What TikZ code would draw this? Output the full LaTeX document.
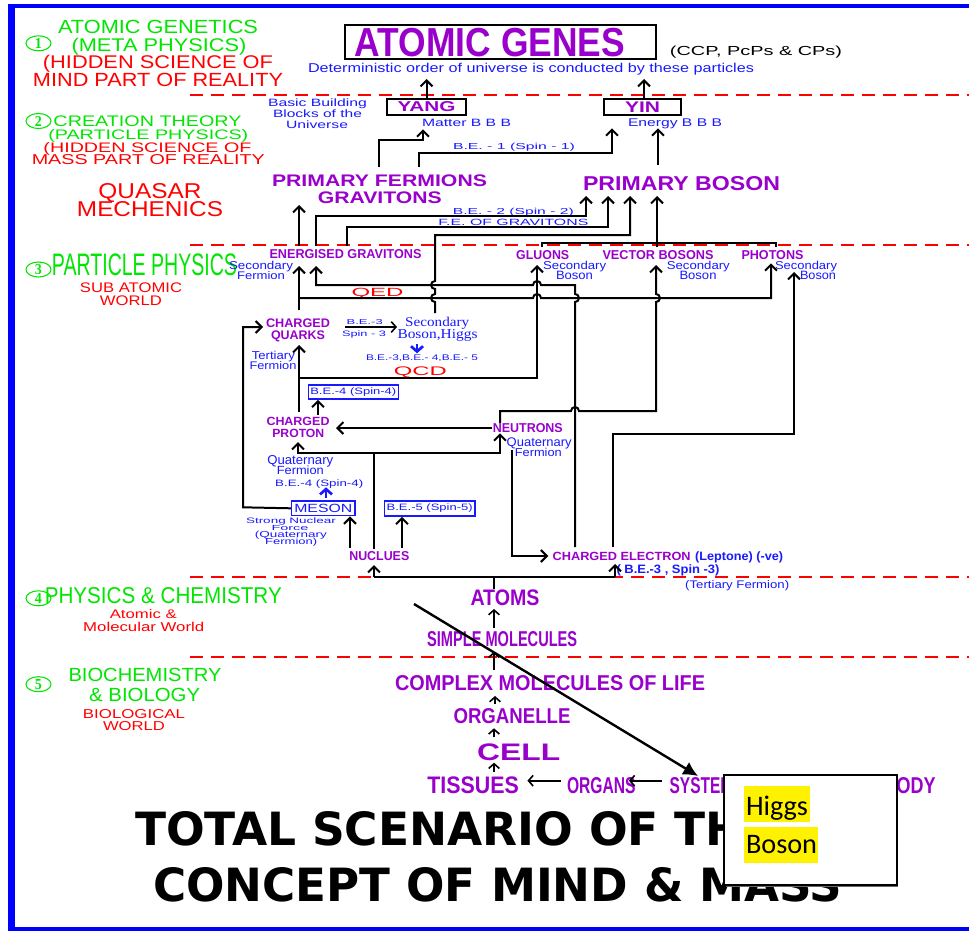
\documentclass[tikz,border=0pt]{standalone}
\usepackage{fontspec}
\usepackage{graphicx}
\setmainfont{Liberation Sans}
\newfontfamily\serfont{Liberation Serif}
\newfontfamily\calfont{Carlito}
\newfontfamily\dejafont{DejaVu Sans}
\usetikzlibrary{arrows.meta,shapes.geometric}
\newlength\pxu
\setlength\pxu{0.75pt}
\newcommand\WH[3]{\resizebox{#1\pxu}{#2\pxu}{#3}}
\definecolor{grn}{RGB}{0,230,0}
\definecolor{rd}{RGB}{255,0,0}
\definecolor{pur}{RGB}{153,0,204}
\definecolor{blu}{RGB}{25,25,255}
\definecolor{bord}{RGB}{0,0,255}
\tikzset{
  tx/.style={inner sep=0pt, outer sep=0pt, anchor=base},
  gtx/.style={tx, text=grn},
  rtx/.style={tx, text=rd},
  ptx/.style={tx, text=pur, font=\bfseries},
  btx/.style={tx, text=blu},
  bbtx/.style={tx, text=blu, font=\bfseries},
  ktx/.style={tx, text=black},
  circ/.style={ellipse, draw=grn, line width=0.8pt, text=grn, inner sep=0pt, minimum width=25\pxu, minimum height=15\pxu, font=\serfont\bfseries},
  boxn/.style={draw, inner sep=0pt, line width=1.5pt},
  con/.style={line width=1.5pt, draw=black},
  arr/.style={con, -{Straight Barb[length=4.5pt,width=9pt]}},
  sarr/.style={line width=1.2pt, draw=black, -{Straight Barb[length=3.5pt,width=8pt]}},
  barr/.style={line width=2pt, draw=blu, -{Straight Barb[length=4pt,width=9pt]}},
  redash/.style={draw=rd, line width=1.5pt, dash pattern=on 9.75pt off 6pt},
}
\begin{document}
\begin{tikzpicture}[x=0.75pt,y=-0.75pt]
\useasboundingbox (0,0) rectangle (969,931);
\fill[white] (0,0) rectangle (969,931);
% border
\draw[bord, line width=5.25pt] (11.5,4) -- (11.5,931);
\draw[bord, line width=3pt] (8,6) -- (969,6);
\draw[bord, line width=3pt] (8,928.5) -- (969,928.5);
% red dashed separators
\draw[redash] (190,95) -- (969,95);
\draw[redash] (190,245) -- (969,245);
\draw[redash] (190,577) -- (969,577);
\draw[redash] (190,657) -- (969,657);

% ---------- left column ----------
\node[circ] (c1) at (38.5,43.3) {\WH{7}{10}{1}};
\node[gtx] (l1a) at (158,33.3) {\WH{200}{13.3}{ATOMIC GENETICS}};
\node[gtx] (l1b) at (159,51.7) {\WH{175}{13.3}{(META PHYSICS)}};
\node[rtx] (l1c) at (158,68.3) {\WH{230}{13.3}{(HIDDEN SCIENCE OF}};
\node[rtx] (l1d) at (158,86) {\WH{250}{13.3}{MIND PART OF REALITY}};

\node[circ] (c2) at (38.5,121) {\WH{7}{10}{2}};
\node[gtx] (l2a) at (147.5,126.7) {\WH{188}{10.7}{CREATION THEORY}};
\node[gtx] (l2b) at (148.3,139.3) {\WH{200}{10}{(PARTICLE PHYSICS)}};
\node[rtx] (l2c) at (147.5,152.7) {\WH{208}{10}{(HIDDEN SCIENCE OF}};
\node[rtx] (l2d) at (148.3,164.3) {\WH{233}{10}{MASS PART OF REALITY}};
\node[rtx] (q1) at (150,198.3) {\WH{103}{15}{QUASAR}};
\node[rtx] (q2) at (150,216.7) {\WH{146}{15}{MECHENICS}};

\node[circ] (c3) at (38.5,269.5) {\WH{7}{10}{3}};
\node[gtx] (l3a) at (144.5,275) {\WH{185}{21.7}{PARTICLE PHYSICS}};
\node[rtx] (l3b) at (131,292.3) {\WH{102}{9.7}{SUB ATOMIC}};
\node[rtx] (l3c) at (131,305) {\WH{62}{9.7}{WORLD}};

\node[circ] (c4) at (38.5,598.3) {\WH{7}{10}{4}};
\node[gtx] (l4a) at (163.3,603.3) {\WH{237}{16}{PHYSICS \& CHEMISTRY}};
\node[rtx] (l4b) at (143.3,618.3) {\WH{67}{9}{Atomic \&}};
\node[rtx] (l4c) at (143.7,631) {\WH{121}{9.3}{Molecular World}};

\node[circ] (c5) at (38.5,684.2) {\WH{7}{10}{5}};
\node[gtx] (l5a) at (145,681.7) {\WH{153}{13.3}{BIOCHEMISTRY}};
\node[gtx] (l5b) at (144.7,701) {\WH{111}{13.3}{\& BIOLOGY}};
\node[rtx] (l5c) at (134,718.3) {\WH{102}{9}{BIOLOGICAL}};
\node[rtx] (l5d) at (134,730.7) {\WH{62}{9}{WORLD}};

% ---------- top ----------
\node[boxn, minimum width=311\pxu, minimum height=34\pxu] (AGb) at (500.5,42) {};
\node[ptx] (AG) at (490,56.7) {\WH{270}{28.3}{ATOMIC GENES}};
\node[ktx] (ccp) at (756,55.5) {\WH{172}{9.5}{(CCP, PcPs \& CPs)}};
\node[btx] (Det) at (531,72.7) {\WH{446}{9.3}{Deterministic order of universe is conducted by these particles}};
\node[btx] (bb1) at (317.5,106) {\WH{99}{7.7}{Basic Building}};
\node[btx] (bb2) at (317.5,117.3) {\WH{89}{7.7}{Blocks of the}};
\node[btx] (bb3) at (317,128.3) {\WH{62}{7.7}{Universe}};
\node[boxn, minimum width=79\pxu, minimum height=16\pxu, text=pur, font=\bfseries] (YANG) at (426.5,107) {\WH{58}{10}{YANG}};
\node[boxn, minimum width=77\pxu, minimum height=16\pxu, text=pur, font=\bfseries] (YIN) at (642.5,107) {\WH{35}{10.6}{YIN}};
\node[btx] (Mat) at (466.5,126.7) {\WH{89}{7.3}{Matter B B B}};
\node[btx] (En) at (675,126) {\WH{94}{7.7}{Energy B B B}};
\node[btx] (be1) at (514,149) {\WH{122}{6.3}{B.E. - 1 (Spin - 1)}};
\node[ptx] (PF1) at (379.5,186.7) {\WH{215}{11.7}{PRIMARY FERMIONS}};
\node[ptx] (PF2) at (379.8,203.3) {\WH{124}{11.7}{GRAVITONS}};
\node[ptx] (PB) at (681.5,190) {\WH{197}{14}{PRIMARY BOSON}};
\node[btx] (be2) at (513.3,214) {\WH{121}{6.3}{B.E. - 2 (Spin - 2)}};
\node[btx] (feg) at (513.3,225) {\WH{150}{6.3}{F.E. OF GRAVITONS}};

% ---------- row 3 ----------
\node[ptx] (EG) at (345.5,258.5) {\WH{152}{9}{ENERGISED GRAVITONS}};
\node[btx] (egs1) at (261,269.3) {\WH{64}{8.3}{Secondary}};
\node[btx] (egs2) at (261,279) {\WH{48}{8}{Fermion}};
\node[ptx] (GL) at (542.7,259) {\WH{53}{9}{GLUONS}};
\node[btx] (gls1) at (574.7,269) {\WH{63}{8.3}{Secondary}};
\node[btx] (gls2) at (574.5,279.3) {\WH{37}{8.3}{Boson}};
\node[ptx] (VB) at (658,259) {\WH{111}{9}{VECTOR BOSONS}};
\node[btx] (vbs1) at (698.3,269) {\WH{63}{8.3}{Secondary}};
\node[btx] (vbs2) at (698,279.3) {\WH{37}{8.3}{Boson}};
\node[ptx] (PH) at (772.5,259) {\WH{62}{9}{PHOTONS}};
\node[btx] (phs1) at (806,269) {\WH{62}{8.3}{Secondary}};
\node[btx] (phs2) at (818,279) {\WH{36}{8.3}{Boson}};
\node[rtx] (QED) at (377.5,296.7) {\WH{52}{8.3}{QED}};

% ---------- middle ----------
\node[ptx] (CQ1) at (298,327.7) {\WH{64}{8.7}{CHARGED}};
\node[ptx] (CQ2) at (298,339.3) {\WH{54}{8.7}{QUARKS}};
\node[btx] (b3a) at (364.7,324.3) {\WH{36}{5}{B.E.-3}};
\node[btx] (b3b) at (364,336.7) {\WH{44}{5.7}{Spin - 3}};
\node[tx, text=blu, font=\serfont] (SH1) at (437.2,326) {\WH{64}{9.3}{Secondary}};
\node[tx, text=blu, font=\serfont] (SH2) at (437.5,338.3) {\WH{80}{9}{Boson,Higgs}};
\node[btx] (b345) at (422,360.7) {\WH{112}{5.7}{B.E.-3,B.E.- 4,B.E.- 5}};
\node[rtx] (QCD) at (420.3,375.3) {\WH{53}{8.7}{QCD}};
\node[btx] (tf1) at (273.3,359.3) {\WH{43}{8.3}{Tertiary}};
\node[btx] (tf2) at (273,369) {\WH{47}{8}{Fermion}};
\node[draw=blu, line width=1.2pt, inner sep=0pt, minimum width=90\pxu, minimum height=14\pxu, text=blu] (BE4) at (353.3,392) {\WH{86}{6.7}{B.E.-4 (Spin-4)}};
\node[ptx] (CP1) at (298,425) {\WH{63}{8.3}{CHARGED}};
\node[ptx] (CP2) at (298.3,437.7) {\WH{52}{8.3}{PROTON}};
\node[ptx] (NE) at (527.8,432.3) {\WH{70}{9}{NEUTRONS}};
\node[btx] (nq1) at (539.2,446) {\WH{65}{8.7}{Quaternary}};
\node[btx] (nq2) at (538.3,456) {\WH{47}{8.3}{Fermion}};
\node[btx] (pq1) at (300.3,464) {\WH{66}{9}{Quaternary}};
\node[btx] (pq2) at (300.3,474.3) {\WH{47}{8.6}{Fermion}};
\node[btx] (b4p) at (319.2,486.7) {\WH{88}{6.7}{B.E.-4 (Spin-4)}};
\node[draw=blu, line width=1.2pt, inner sep=0pt, minimum width=63.3\pxu, minimum height=14.7\pxu, text=blu] (MES) at (323.3,508.3) {\WH{58}{8.3}{MESON}};
\node[btx] (sn1) at (291,523.3) {\WH{90}{5.7}{Strong Nuclear}};
\node[btx] (sn2) at (290,530) {\WH{37}{5}{Force}};
\node[btx] (sn3) at (290.8,537.3) {\WH{72}{6.3}{(Quaternary}};
\node[btx] (sn4) at (291.2,544) {\WH{52}{6.3}{Fermion)}};
\node[draw=blu, line width=1.2pt, inner sep=0pt, minimum width=90.7\pxu, minimum height=15\pxu, text=blu] (BE5) at (429.7,508.5) {\WH{86}{6.7}{B.E.-5 (Spin-5)}};
\node[ptx] (NUC) at (379.3,560.7) {\WH{60}{9}{NUCLUES}};
\node[ptx] (CE) at (621.7,560) {\WH{138}{8.3}{CHARGED ELECTRON}};
\node[bbtx] (lep) at (739.2,560) {\WH{88}{8.8}{(Leptone) (-ve)}};
\node[bbtx] (ce2) at (668,573.5) {\WH{103}{8.8}{( B.E.-3 , Spin -3)}};
\node[btx] (ce3) at (737.2,588.3) {\WH{104}{8}{(Tertiary Fermion)}};

% ---------- bottom chain ----------
\node[ptx] (AT) at (505,605) {\WH{69}{15.7}{ATOMS}};
\node[ptx] (SM) at (502.2,646.7) {\WH{150}{15}{SIMPLE MOLECULES}};
\node[ptx] (CM) at (550,690) {\WH{310}{15}{COMPLEX MOLECULES OF LIFE}};
\node[ptx] (OR) at (512,723.3) {\WH{117}{15}{ORGANELLE}};
\node[ptx] (CELL) at (518.7,760) {\WH{83}{16.7}{CELL}};
\node[ptx] (TI) at (473.1,793.3) {\WH{91.5}{16.7}{TISSUES}};
\node[ptx] (ORG) at (601.3,793.3) {\WH{68.6}{16}{ORGANS}};
\node[ptx] (SYS) at (706.6,793.3) {\WH{74}{16}{SYSTEMS}};
\node[ptx] (BODY) at (909.6,793.3) {\WH{52}{16}{BODY}};

% ---------- title ----------
\node[tx, anchor=base west, font=\dejafont\bfseries] (T1) at (135,845.7) {\WH{640}{34}{TOTAL SCENARIO OF THE}};
\node[tx, anchor=base west, font=\dejafont\bfseries] (T2) at (153,901.7) {\WH{689}{34}{CONCEPT OF MIND \& MASS}};

% ---------- connectors ----------
\draw[arr] (YANG.north) -- (426.5,79);
\draw[arr] (YIN.north -| 644,0) -- (644,79);
\draw[arr] (379,167) -- (379,140) -- (423,140) -- (423,129.3);
\draw[arr] (419,167) -- (419,153) -- (612,153) -- (612,128.3);
\draw[arr] (658,165) -- (658,128.3);
\draw[arr] (299,246) -- (299,205);
\draw[arr] (316,246) -- (316,216) -- (586,216) -- (586,196);
\draw[arr] (347,246) -- (347,227) -- (608,227) -- (608,196);
\draw[arr] (435,313) -- (435,302) arc[start angle=90, end angle=270, radius=4]
   -- (435,289) arc[start angle=90, end angle=270, radius=4]
   -- (435,235) -- (630,235) -- (630,196);
\draw[con] (542,247) -- (542,243) -- (776,243) -- (776,247);
\draw[arr] (657,247) -- (657,196);
% upper QED line: electron -> energised gravitons
\draw[arr] (575,547) -- (575,302) arc[start angle=90, end angle=-90, radius=4]
   -- (575,285) -- (541,285) arc[start angle=0, end angle=-180, radius=4]
   -- (316,285) -- (316,266);
% lower QED line: quarks -> photons
\draw[arr] (299,298) -- (533,298) arc[start angle=180, end angle=360, radius=4]
   -- (771,298) -- (771,263.3);
% quarks -> energised gravitons
\draw[arr] (299,310) -- (299,266);
% QCD: -> gluons
\draw[arr] (299,378) -- (537,378) -- (537,265);
% proton -> quarks
\draw[arr] (299,412) -- (299,345);
% neutrons -> vector bosons
\draw[arr] (500,423) -- (500,411) -- (571,411) arc[start angle=180, end angle=360, radius=4]
   -- (656,411) -- (656,302) arc[start angle=90, end angle=-90, radius=4] -- (656,265);
% electron -> photons
\draw[arr] (613,547) -- (613,434) -- (794,434) -- (794,272);
% meson -> quarks
\draw[arr] (MES.west) -- (243,507.3) -- (243,327) -- (263,327);
% B.E.-3 -> Higgs
\draw[con, line width=1.2pt, -{Straight Barb[length=3.5pt,width=8pt]}] (345,327) -- (397,327);
\draw[barr] (417,344) -- (417,353.3);
% proton -> B.E.-4
\draw[arr] (318,415) -- (BE4.south -| 318,0);
% neutrons -> proton
\draw[arr] (492,428) -- (336,428);
% nucleus -> proton / neutrons
\draw[con] (374,549) -- (374,453.3);
\draw[arr] (374,453.3) -- (298,453.3) -- (298,442);
\draw[arr] (374,453.3) -- (500,453.3) -- (500,433.3);
% neutrons -> electron
\draw[arr] (511.7,450) -- (511.7,556) -- (548.3,556);
% meson -> B.E.-4
\draw[barr] (326,497.5) -- (326,487.3);
% nucleus -> meson, B.E.-5
\draw[arr] (350,548) -- (MES.south -| 350,0);
\draw[arr] (402,548) -- (BE5.south -| 402,0);
% atoms -> nucleus / electron
\draw[con] (AT.north -| 494,0) -- (494,577);
\draw[con] (374,577) -- (615,577);
\draw[arr] (374,577) -- (374,565);
\draw[arr] (615,577) -- (615,564);
% bottom chain
\draw[sarr] (494,628) -- (494,609);
\draw[sarr] (494,670) -- (494,651.7);
\draw[sarr] (495,704) -- (495,696);
\draw[sarr] (494,737.3) -- (494,728.3);
\draw[sarr] (494,771.7) -- (494,762.7);
\draw[sarr] (560.7,780.7) -- (527.4,780.7);
\draw[sarr] (661.5,780.7) -- (628.9,780.7);
% diagonal arrow
\draw[line width=1.8pt, -{Latex[length=11pt,width=11pt]}] (414,604) -- (698,776);

% ---------- Higgs box ----------
\fill[black!60] (725.5,776.5) rectangle (898,886.5);
\node[draw, fill=white, line width=1.2pt, inner sep=0pt, minimum width=173\pxu, minimum height=110\pxu] (HB) at (810.5,830) {};
\fill[yellow] (744,786) rectangle (810,822);
\fill[yellow] (744,827) rectangle (818,863);
\node[tx, anchor=base west, font=\calfont\fontsize{21.2}{25}\selectfont] (HG) at (746,815) {Higgs};
\node[tx, anchor=base west, font=\calfont\fontsize{21.2}{25}\selectfont] (HBs) at (746,853) {Boson};
\end{tikzpicture}
\end{document}
